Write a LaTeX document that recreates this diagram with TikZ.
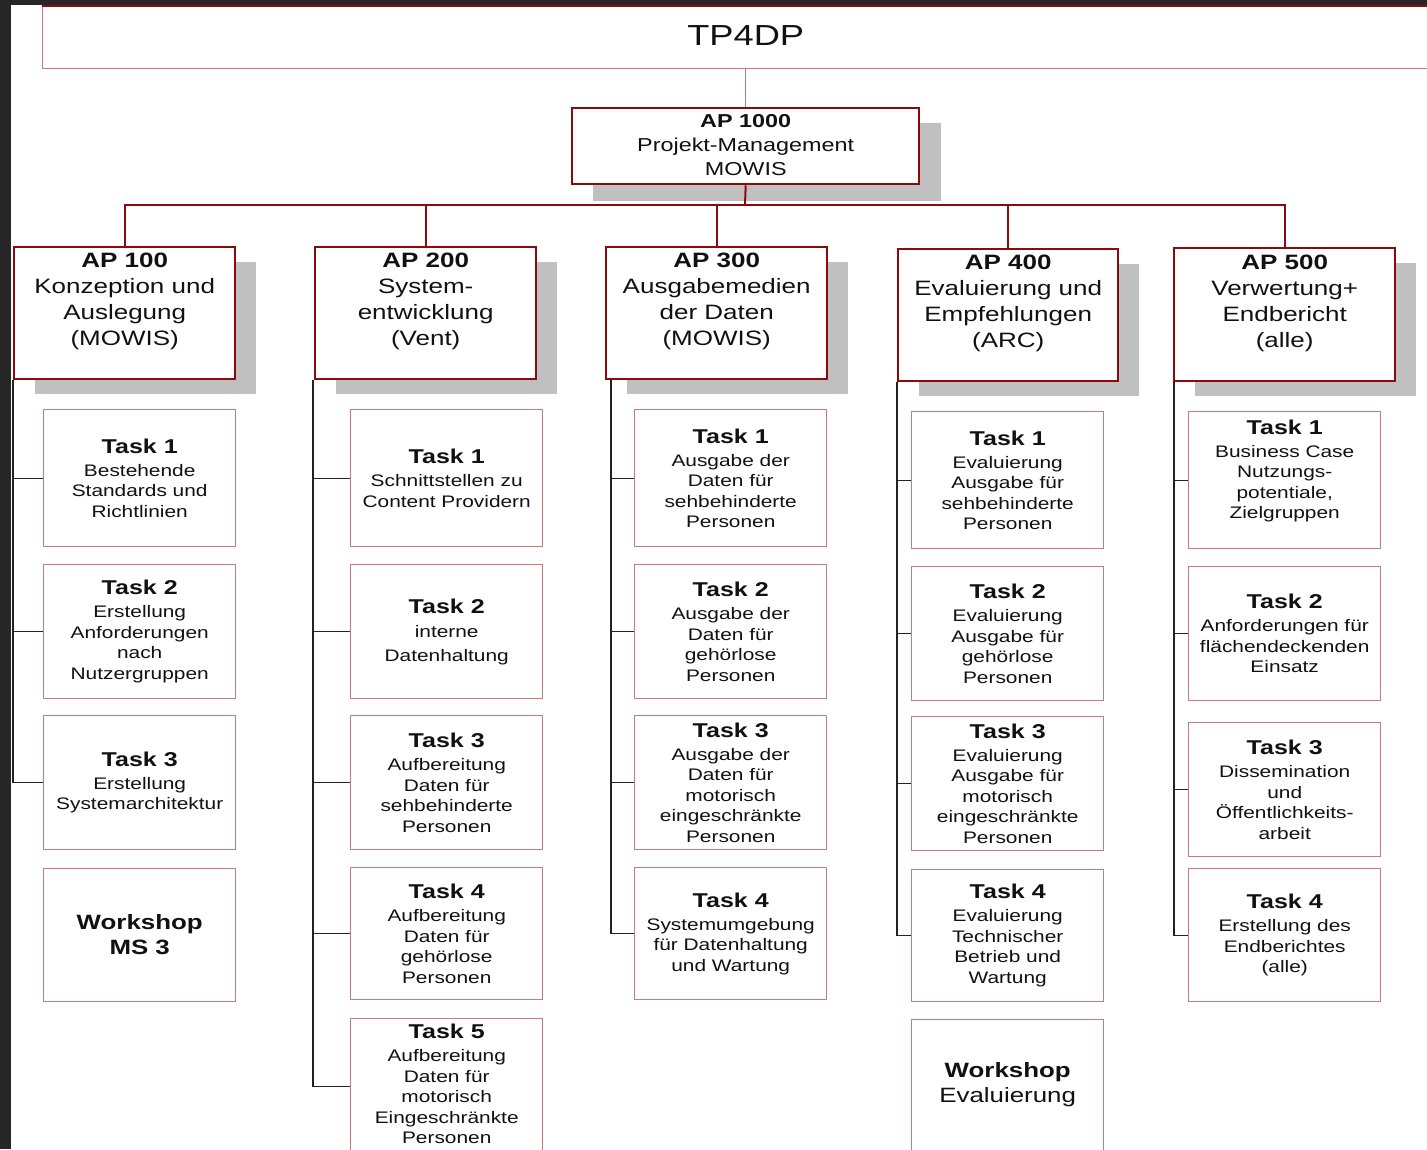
\documentclass[tikz,border=0pt]{standalone}
\usepackage{fontspec}
\setmainfont{Liberation Sans}[FakeStretch=1.25]
\definecolor{darkbg}{HTML}{262626}
\definecolor{apred}{HTML}{8B0A0A}
\definecolor{taskred}{HTML}{C47C7C}
\definecolor{shadowgray}{HTML}{C0C0C0}
\definecolor{txt}{HTML}{111111}
\definecolor{conn}{HTML}{222222}
\newcommand\ttl[1]{{\fontsize{20}{20}\selectfont\bfseries #1}\\[2.5pt]}
\newcommand\wsf{\fontsize{20.7}{25}\selectfont}
\newcommand\tbox[6]{%
  \node[taskbox, minimum height=#4pt] (#1) at (#2,#3) {};
  \node[tasktext] (#1t) at ([yshift=#5pt]#1.center) {#6};}
\newcommand\apbx[6]{%
  \fill[shadowgray] (#2+22,#3+16) rectangle ++(#4,#5);
  \node[apbox, minimum height=#5pt, minimum width=#4pt] (#1) at (#2,#3) {};
  \node[aptext] (#1t) at ([yshift=11.5pt]#1.center) {#6};}
\begin{document}
\begin{tikzpicture}[x=1pt,y=-1pt,
  taskbox/.style={draw=taskred, line width=1.4pt, fill=white, anchor=north west,
    inner sep=0pt, minimum width=192pt},
  tasktext/.style={align=center, text=txt, inner sep=0pt,
    font=\fontsize{16.7}{20.5}\selectfont},
  apbox/.style={draw=apred, line width=2.4pt, fill=white, anchor=north west, inner sep=0pt},
  aptext/.style={align=center, text=txt, inner sep=0pt,
    font=\fontsize{20.8}{26}\selectfont},
  link/.style={draw=conn, line width=1.3pt},
  bus/.style={draw=apred, line width=2pt}]
\useasboundingbox (0,0) rectangle (1427,1149);
\fill[white] (0,0) rectangle (1427,1149);
\fill[darkbg] (0,0) rectangle (11,1149);
\fill[darkbg] (0,0) rectangle (1427,5);

% top box
\node[draw=taskred, line width=1.4pt, fill=white, anchor=north west, inner sep=0pt,
  minimum width=1406pt, minimum height=62pt] (tp) at (42,6) {};
\node[text=txt, inner sep=0pt, font=\fontsize{29}{29}\selectfont] (tpt)
  at ([yshift=2pt]tp.center) {TP4DP};
\draw[apred, line width=2pt] (tp.north west) -- (tp.north east);

% AP 1000
\fill[shadowgray] (593,123) rectangle ++(348,78);
\node[apbox, minimum width=347pt, minimum height=76pt] (ap0) at (571,107) {};
\node[align=center, text=txt, inner sep=0pt, font=\fontsize{18.7}{24}\selectfont] (ap0t)
  at ([yshift=1.5pt]ap0.center) {{\bfseries AP 1000}\\Projekt-Management\\MOWIS};
\draw[taskred, line width=1.4pt] (tp.south) -- (ap0.north);

% AP boxes
\apbx{ap1}{13}{246}{221}{132}{{\bfseries AP 100}\\Konzeption und\\Auslegung\\(MOWIS)}
\apbx{ap2}{314}{246}{221}{132}{{\bfseries AP 200}\\System-\\entwicklung\\(Vent)}
\apbx{ap3}{605}{246}{221}{132}{{\bfseries AP 300}\\Ausgabemedien\\der Daten\\(MOWIS)}
\apbx{ap4}{897}{248}{220}{132}{{\bfseries AP 400}\\Evaluierung und\\Empfehlungen\\(ARC)}
\apbx{ap5}{1173}{247}{221}{133}{{\bfseries AP 500}\\Verwertung+\\Endbericht\\(alle)}

\coordinate (busc) at (745,205);
\draw[bus] (ap0.south) -- (busc);
\foreach \a in {ap1,ap2,ap3,ap4,ap5} \draw[bus] (busc) -| (\a.north);

% column 1
\tbox{t11}{43}{409}{137}{0}{\ttl{Task 1}Bestehende\\Standards und\\Richtlinien}
\tbox{t12}{43}{564}{134}{0}{\ttl{Task 2}Erstellung\\Anforderungen\\nach\\Nutzergruppen}
\tbox{t13}{43}{715}{134}{0}{\ttl{Task 3}Erstellung\\Systemarchitektur}
\tbox{w1}{43}{868}{133}{1}{{\wsf\bfseries Workshop}\\[4.5pt]{\wsf\bfseries MS 3}}
% column 2
\tbox{t21}{350}{409}{137}{0}{\ttl{Task 1}Schnittstellen zu\\Content Providern}
\tbox{t22}{350}{564}{134}{0}{{\fontsize{20}{20}\selectfont\bfseries Task 2}\\[3.5pt]interne\\[3.5pt]Datenhaltung}
\tbox{t23}{350}{715}{134}{0}{\ttl{Task 3}Aufbereitung\\Daten für\\sehbehinderte\\Personen}
\tbox{t24}{350}{867}{132}{0}{\ttl{Task 4}Aufbereitung\\Daten für\\gehörlose\\Personen}
\tbox{t25}{350}{1018}{135}{2}{\ttl{Task 5}Aufbereitung\\Daten für\\motorisch\\Eingeschränkte\\Personen}
% column 3
\tbox{t31}{634}{409}{137}{0}{\ttl{Task 1}Ausgabe der\\Daten für\\sehbehinderte\\Personen}
\tbox{t32}{634}{564}{134}{0}{\ttl{Task 2}Ausgabe der\\Daten für\\gehörlose\\Personen}
\tbox{t33}{634}{715}{134}{0}{\ttl{Task 3}Ausgabe der\\Daten für\\motorisch\\eingeschränkte\\Personen}
\tbox{t34}{634}{867}{132}{0}{\ttl{Task 4}Systemumgebung\\für Datenhaltung\\und Wartung}
% column 4
\tbox{t41}{911}{411}{137}{0}{\ttl{Task 1}Evaluierung\\Ausgabe für\\sehbehinderte\\Personen}
\tbox{t42}{911}{566}{134}{0}{\ttl{Task 2}Evaluierung\\Ausgabe für\\gehörlose\\Personen}
\tbox{t43}{911}{716}{134}{0}{\ttl{Task 3}Evaluierung\\Ausgabe für\\motorisch\\eingeschränkte\\Personen}
\tbox{t44}{911}{869}{132}{0}{\ttl{Task 4}Evaluierung\\Technischer\\Betrieb und\\Wartung}
\tbox{w4}{911}{1019}{135}{3}{{\wsf\bfseries Workshop}\\[4.5pt]{\wsf Evaluierung}}
% column 5
\tbox{t51}{1188}{411}{137}{9}{\ttl{Task 1}Business Case\\Nutzungs-\\potentiale,\\Zielgruppen}
\tbox{t52}{1188}{566}{134}{0}{\ttl{Task 2}Anforderungen für\\flächendeckenden\\Einsatz}
\tbox{t53}{1188}{722}{134}{0}{\ttl{Task 3}Dissemination\\und\\Öffentlichkeits-\\arbeit}
\tbox{t54}{1188}{868}{133}{0}{\ttl{Task 4}Erstellung des\\Endberichtes\\(alle)}

% task connectors
\foreach \t in {t11,t12,t13} \draw[link] (ap1.south west) |- (\t.west);
\foreach \t in {t21,t22,t23,t24,t25} \draw[link] ([xshift=-1pt]ap2.south west) |- (\t.west);
\foreach \t in {t31,t32,t33,t34} \draw[link] ([xshift=6pt]ap3.south west) |- (\t.west);
\foreach \t in {t41,t42,t43,t44} \draw[link] (ap4.south west) |- (\t.west);
\foreach \t in {t51,t52,t53,t54} \draw[link] ([xshift=1pt]ap5.south west) |- (\t.west);
\end{tikzpicture}
\end{document}
